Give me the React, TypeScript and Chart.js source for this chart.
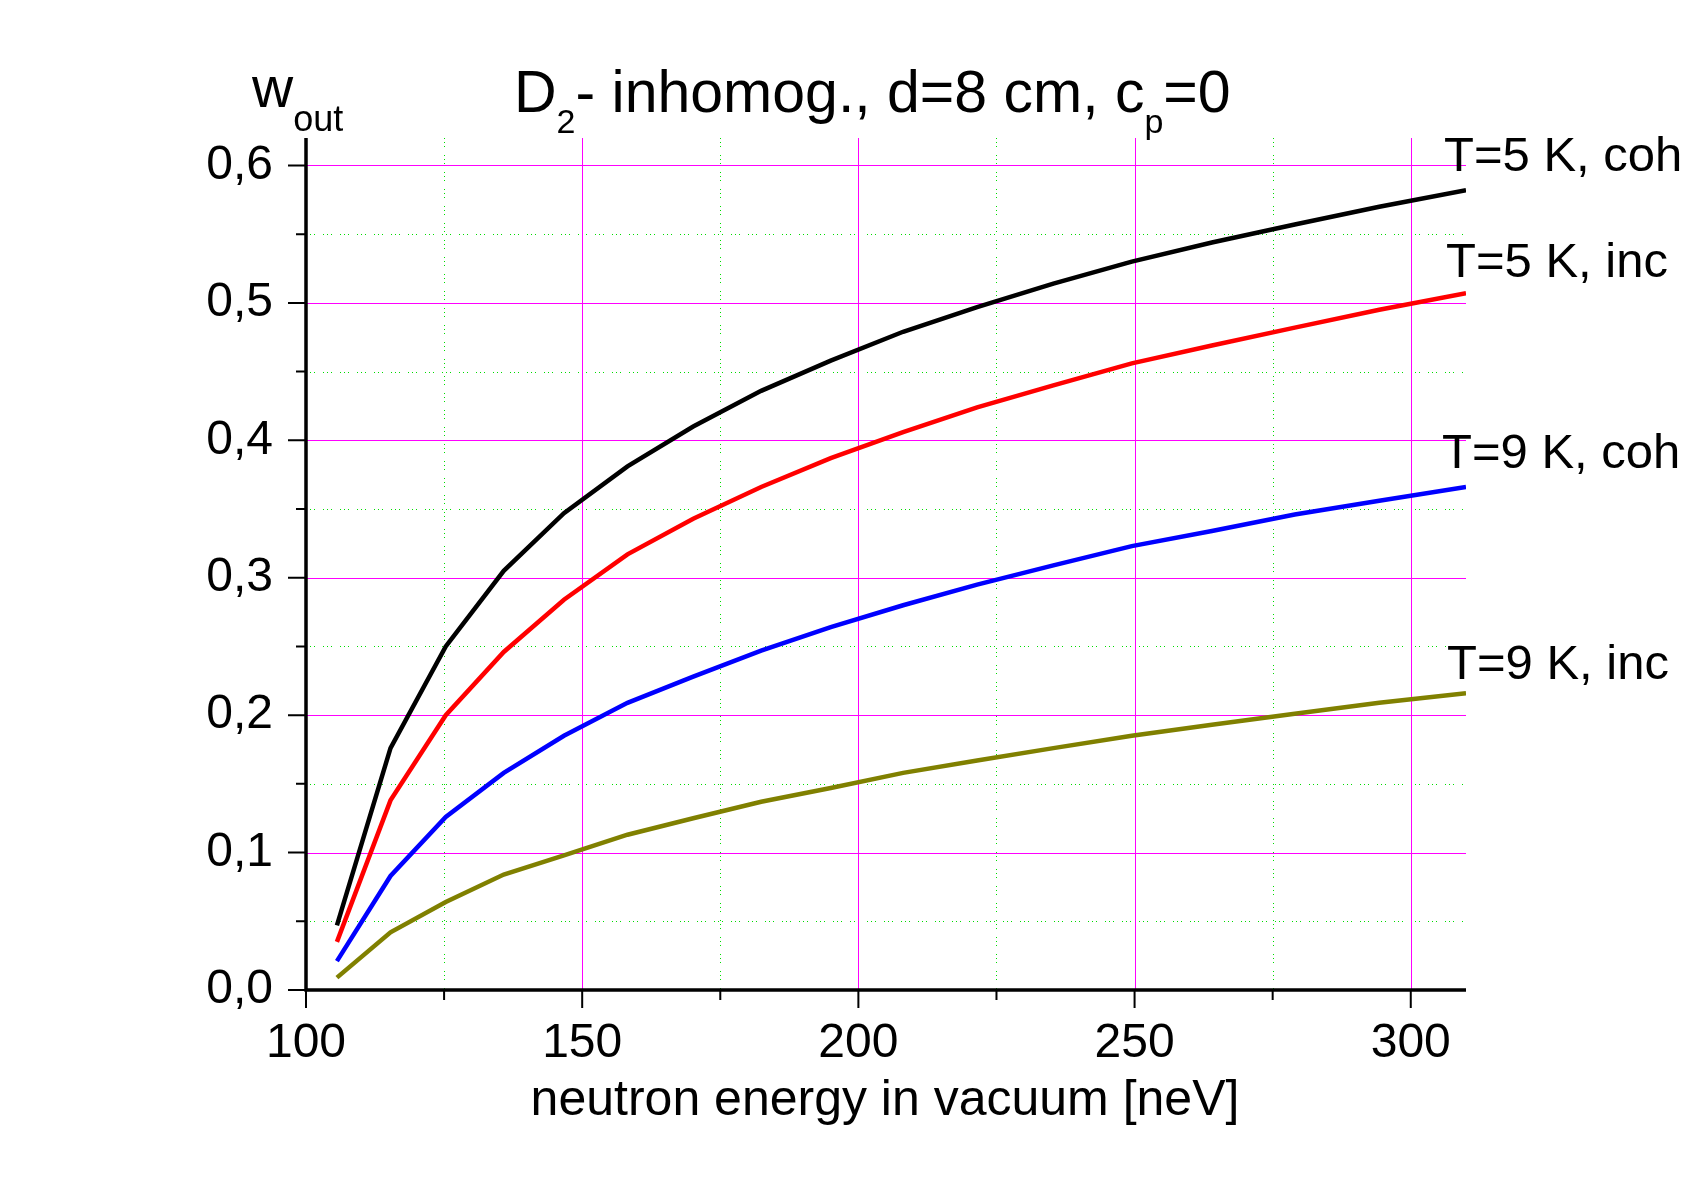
import { useEffect, useRef } from 'react';
import { Chart, registerables } from 'chart.js';

Chart.register(...registerables);

const FONT = '"Liberation Sans", Arial, Helvetica, sans-serif';

// neutron energy in vacuum [neV]
const energy = [105.6, 115.3, 125.3, 135.8, 146.7, 158.2, 170.1, 182.4, 195.0, 208.1, 221.5, 235.3, 249.5, 264.0, 279.0, 294.3, 310.0];

// w_out for each case
const t5coh = [0.047, 0.176, 0.250, 0.305, 0.347, 0.381, 0.410, 0.436, 0.458, 0.479, 0.497, 0.514, 0.530, 0.544, 0.557, 0.570, 0.582];
const t5inc = [0.035, 0.138, 0.200, 0.246, 0.284, 0.317, 0.343, 0.366, 0.387, 0.406, 0.424, 0.440, 0.456, 0.469, 0.482, 0.495, 0.507];
const t9coh = [0.021, 0.083, 0.126, 0.158, 0.185, 0.209, 0.228, 0.247, 0.264, 0.280, 0.295, 0.309, 0.323, 0.334, 0.346, 0.356, 0.366];
const t9inc = [0.009, 0.042, 0.064, 0.084, 0.098, 0.113, 0.125, 0.137, 0.147, 0.158, 0.167, 0.176, 0.185, 0.193, 0.201, 0.209, 0.216];

const seriesNames = ['T=5 K, coh', 'T=5 K, inc', 'T=9 K, coh', 'T=9 K, inc'];
const seriesColors = ['#000000', '#ff0000', '#0000ff', '#808000'];

const toPoints = (ys: number[]) => ys.map((v, i) => ({ x: energy[i], y: v }));

type Run = { t: string; size: number; dy: number };

function drawRuns(ctx: CanvasRenderingContext2D, x: number, y: number, runs: Run[]) {
  let cx = x;
  for (const r of runs) {
    ctx.font = `${r.size}px ${FONT}`;
    ctx.fillText(r.t, cx, y + r.dy);
    cx += ctx.measureText(r.t).width;
  }
}

// minor positions halfway between the major ticks
const minors = (vals: number[]) => vals.slice(1).map((v, i) => (v + vals[i]) / 2);

const framePlugin = {
  id: 'frame',
  beforeDatasetsDraw(chart: any) {
    const { ctx, chartArea: a, scales } = chart;
    const x = scales.x;
    const y = scales.y;
    const xt = x.ticks.map((t: any) => t.value);
    const yt = y.ticks.map((t: any) => t.value);
    ctx.save();
    ctx.lineWidth = 1;

    ctx.strokeStyle = '#00dd00';
    ctx.setLineDash([1, 3, 1, 3, 1, 8]);
    ctx.beginPath();
    for (const v of minors(xt)) {
      const px = Math.round(x.getPixelForValue(v)) + 0.5;
      ctx.moveTo(px, a.top);
      ctx.lineTo(px, a.bottom);
    }
    for (const v of minors(yt)) {
      const py = Math.round(y.getPixelForValue(v)) + 0.5;
      ctx.moveTo(a.left, py);
      ctx.lineTo(a.right, py);
    }
    ctx.stroke();

    ctx.setLineDash([]);
    ctx.strokeStyle = '#ff00ff';
    ctx.beginPath();
    for (const v of xt.slice(1)) {
      const px = Math.round(x.getPixelForValue(v)) + 0.5;
      ctx.moveTo(px, a.top);
      ctx.lineTo(px, a.bottom);
    }
    for (const v of yt.slice(1)) {
      const py = Math.round(y.getPixelForValue(v)) + 0.5;
      ctx.moveTo(a.left, py);
      ctx.lineTo(a.right, py);
    }
    ctx.stroke();
    ctx.restore();
  },
  afterDatasetsDraw(chart: any) {
    const { ctx, chartArea: a, scales } = chart;
    const x = scales.x;
    const y = scales.y;
    const xt = x.ticks.map((t: any) => t.value);
    const yt = y.ticks.map((t: any) => t.value);
    ctx.save();

    // axis lines
    ctx.strokeStyle = '#000';
    ctx.lineWidth = 3.5;
    ctx.beginPath();
    ctx.moveTo(a.left, a.top);
    ctx.lineTo(a.left, a.bottom);
    ctx.lineTo(a.right, a.bottom);
    ctx.stroke();

    // tick marks, outward
    ctx.lineWidth = 2;
    ctx.beginPath();
    for (const v of xt) {
      const px = x.getPixelForValue(v);
      ctx.moveTo(px, a.bottom);
      ctx.lineTo(px, a.bottom + 18);
    }
    for (const v of minors(xt)) {
      const px = x.getPixelForValue(v);
      ctx.moveTo(px, a.bottom);
      ctx.lineTo(px, a.bottom + 10);
    }
    for (const v of yt) {
      const py = y.getPixelForValue(v);
      ctx.moveTo(a.left, py);
      ctx.lineTo(a.left - 18, py);
    }
    for (const v of minors(yt)) {
      const py = y.getPixelForValue(v);
      ctx.moveTo(a.left, py);
      ctx.lineTo(a.left - 10, py);
    }
    ctx.stroke();

    ctx.fillStyle = '#000';
    ctx.textBaseline = 'alphabetic';
    ctx.textAlign = 'left';

    // title
    drawRuns(ctx, 514, 112, [
      { t: 'D', size: 59, dy: 0 },
      { t: '2', size: 34, dy: 21 },
      { t: '- inhomog., d=8 cm, c', size: 59, dy: 0 },
      { t: 'p', size: 34, dy: 21 },
      { t: '=0', size: 59, dy: 0 },
    ]);

    // y axis title
    drawRuns(ctx, 252, 107, [
      { t: 'w', size: 57, dy: 0 },
      { t: 'out', size: 36, dy: 24 },
    ]);

    // x axis title
    ctx.textAlign = 'center';
    ctx.font = `50px ${FONT}`;
    ctx.fillText('neutron energy in vacuum [neV]', (a.left + a.right) / 2 - 1, 1115);

    // curve labels
    ctx.textAlign = 'left';
    ctx.font = `49px ${FONT}`;
    const labelPos = [
      [1444, 171],
      [1446, 277],
      [1442, 468],
      [1447, 679],
    ];
    seriesNames.forEach((n, i) => ctx.fillText(n, labelPos[i][0], labelPos[i][1]));

    ctx.restore();
  },
};

export default function App() {
  const canvasRef = useRef<HTMLCanvasElement>(null);

  useEffect(() => {
    if (!canvasRef.current) return;
    const series = [t5coh, t5inc, t9coh, t9inc];
    const chart = new Chart(canvasRef.current, {
      type: 'line',
      data: {
        datasets: series.map((s, i) => ({
          label: seriesNames[i],
          data: toPoints(s),
          borderColor: seriesColors[i],
          backgroundColor: seriesColors[i],
          borderWidth: 4.5,
          pointRadius: 0,
          tension: 0,
          fill: false,
        })),
      },
      options: {
        responsive: false,
        animation: false,
        layout: { padding: { top: 138, right: 235, left: 0, bottom: 0 } },
        plugins: {
          legend: { display: false },
          tooltip: { enabled: false },
          title: { display: false },
        },
        scales: {
          x: {
            type: 'linear',
            min: 100,
            max: 310,
            grid: { display: false, drawTicks: false },
            border: { display: false },
            ticks: {
              stepSize: 50,
              includeBounds: false,
              autoSkip: false,
              maxRotation: 0,
              padding: 25,
              color: '#000',
              font: { family: FONT, size: 48 },
            },
            afterFit: (s: any) => { s.height = 197; },
          },
          y: {
            type: 'linear',
            min: 0,
            max: 0.62,
            grid: { display: false, drawTicks: false },
            border: { display: false },
            ticks: {
              stepSize: 0.1,
              includeBounds: false,
              padding: 33,
              color: '#000',
              font: { family: FONT, size: 48 },
              callback: (v: any) => Number(v).toFixed(1).replace('.', ','),
            },
            afterFit: (s: any) => { s.width = 306; },
          },
        },
      },
      plugins: [framePlugin],
    });
    return () => { chart.destroy(); };
  }, []);

  return (
    <div style={{ position: 'absolute', left: 0, top: 0, width: 1701, height: 1187, background: '#fff' }}>
      <canvas ref={canvasRef} width={1701} height={1187} style={{ width: 1701, height: 1187 }} />
    </div>
  );
}
